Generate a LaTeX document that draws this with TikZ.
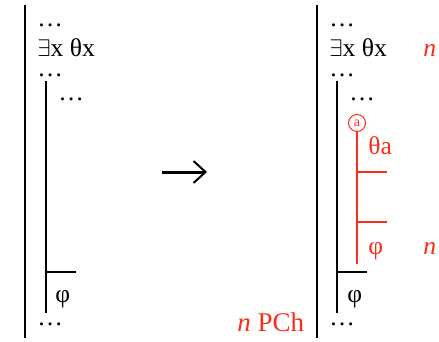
\documentclass[tikz,border=0pt]{standalone}
\usepackage{fontspec}
\setmainfont{Liberation Serif}
\usetikzlibrary{arrows.meta}
\definecolor{pchred}{RGB}{250,45,25}

\begin{document}
\begin{tikzpicture}[
    x=0.5pt,
    y=-0.5pt,
    line cap=butt,
    bar/.style={
        line width=1pt
    },
    redbar/.style={
        line width=1pt,
        draw=pchred
    },
    txt/.style={
        anchor=base west,
        inner sep=0pt,
        font=\fontsize{12.8}{14}\selectfont
    },
    redtxt/.style={
        txt,
        text=pchred
    },
    every node/.style={
        inner sep=0pt
    }
]

\useasboundingbox (0,0) rectangle (439,342);

% =================================================
% Left proof
% =================================================

\coordinate (Ltop)  at (25,5);
\coordinate (Lbot)  at (25,338);
\coordinate (ltop)  at (46,81);
\coordinate (lbot)  at (46,313);
\coordinate (ltick) at (46,272);
\coordinate (lend)  at (76,272);

\draw[bar] (Ltop)--(Lbot);
\draw[bar] (ltop)--(lbot);
\draw[bar] (ltick)--(lend);

\node[txt] (ldotsa) at (37,27)  {\ldots};
\node[txt] (lex)    at (37,57)  {$\exists$x θx};
\node[txt] (ldotsb) at (37,77)  {\ldots};
\node[txt] (ldotsc) at (58,101) {\ldots};
\node[txt] (lphi)   at (55,302) {φ};
\node[txt] (ldotsd) at (37,325) {\ldots};

% =================================================
% Arrow
% =================================================

\coordinate (afrom) at (162,172);
\coordinate (ato)   at (207,172);
\draw[line width=1.5pt,-{Straight Barb[length=6pt,width=11pt,line width=1pt]}] (afrom)--(ato);

% =================================================
% Right proof
% =================================================

\coordinate (Rtop)  at (317,5);
\coordinate (Rbot)  at (317,338);
\coordinate (rtop)  at (337,81);
\coordinate (rbot)  at (337,313);
\coordinate (rtick) at (337,272);
\coordinate (rend)  at (367,272);

\draw[bar] (Rtop)--(Rbot);
\draw[bar] (rtop)--(rbot);
\draw[bar] (rtick)--(rend);

\node[txt] (rdotsa) at (329,27)  {\ldots};
\node[txt] (rex)    at (329,57)  {$\exists$x θx};
\node[txt] (rdotsb) at (329,77)  {\ldots};
\node[txt] (rdotsc) at (349,101) {\ldots};
\node[txt] (rphi)   at (347,302) {φ};
\node[txt] (rdotsd) at (329,325) {\ldots};

% Neue Unterbeweis mit a
\node[circle,draw=pchred,line width=0.5pt,minimum size=8.5pt,text=pchred,
      font=\fontsize{7}{8}\selectfont] (avar) at (357,123) {a};
\coordinate (abot) at (357,264);
\coordinate (atka) at (357,172);
\coordinate (atkb) at (357,222);
\coordinate (aena) at (387,172);
\coordinate (aenb) at (387,222);

\draw[redbar] (avar)--(abot);
\draw[redbar] (atka)--(aena);
\draw[redbar] (atkb)--(aenb);

\node[redtxt] (theta) at (368,155) {θa};
\node[redtxt] (aphi)  at (368,254) {φ};

% Zeilennummern
\node[redtxt] (na) at (423,57)  {\textit{n}};
\node[redtxt] (nb) at (423,254) {\textit{n}};
\node[redtxt,font=\fontsize{13.5}{15}\selectfont] (pch) at (237,331) {\textit{n} PCh};

\end{tikzpicture}
\end{document}
